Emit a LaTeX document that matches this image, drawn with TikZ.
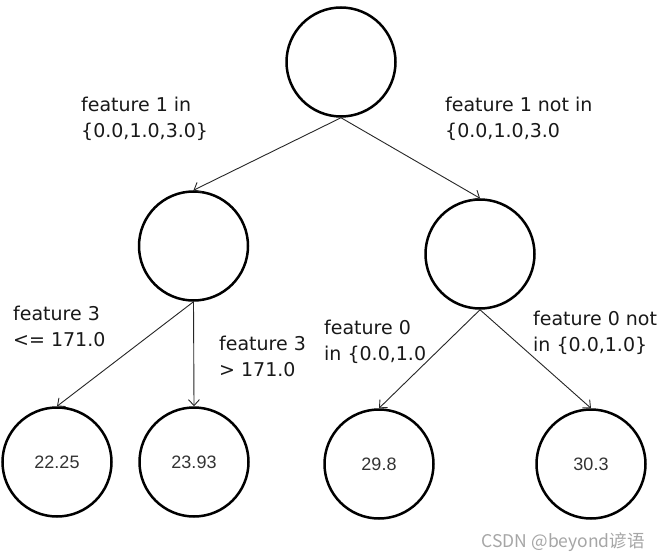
\documentclass[tikz,border=0pt]{standalone}
\usepackage{fontspec}
\setmainfont{DejaVu Sans}
\newfontfamily\leaffont{Liberation Sans}
\newfontfamily\cjkfont{Noto Sans CJK SC}
\usetikzlibrary{arrows.meta}
\tikzset{
  treenode/.style={circle, draw=black, line width=2.5pt, minimum size=109pt, inner sep=0pt, font=\leaffont\fontsize{18}{20}\selectfont, text=black!80},
  edgearrow/.style={draw=black!85, line width=0.9pt, -{Straight Barb[length=6pt,width=11pt]}},
  lbl/.style={anchor=base west, align=left, inner sep=0pt, font=\fontsize{19}{26}\selectfont, text=black!90}
}
\begin{document}
\begin{tikzpicture}[x=1pt,y=-1pt]
\useasboundingbox[fill=white] (0,0) rectangle (661,559);
\node[treenode] (root) at (341,62) {};
\node[treenode] (ml) at (193.5,246) {};
\node[treenode] (mr) at (480,254) {};
\node[treenode] (l1) at (57,462) {22.25};
\node[treenode] (l2) at (194,462) {23.93};
\node[treenode] (l3) at (379,464) {29.8};
\node[treenode] (l4) at (591,464) {30.3};
\draw[edgearrow] (root.south) -- (ml.north);
\draw[edgearrow] (root.south) -- (mr.north);
\draw[edgearrow] (ml.south) -- (l1.north);
\draw[edgearrow] (ml.south) -- (l2.north);
\draw[edgearrow] (mr.south) -- (l3.north);
\draw[edgearrow] (mr.south) -- (l4.north);
\node[lbl] (t1) at (81,138) {feature 1 in\\\{0.0,1.0,3.0\}};
\node[lbl] (t2) at (445,138) {feature 1 not in\\\{0.0,1.0,3.0};
\node[lbl] (t3) at (13,346) {feature 3\\<= 171.0};
\node[lbl] (t4) at (219,376) {feature 3\\> 171.0};
\node[lbl] (t5) at (324,360) {feature 0\\in \{0.0,1.0};
\node[lbl] (t6) at (533,351) {feature 0 not\\in \{0.0,1.0\}};
\node[anchor=base east, inner sep=0pt, text=black!35, font=\cjkfont\fontsize{17.5}{20}\selectfont] (wm) at (645,547) {CSDN @beyond谚语};
\end{tikzpicture}
\end{document}
